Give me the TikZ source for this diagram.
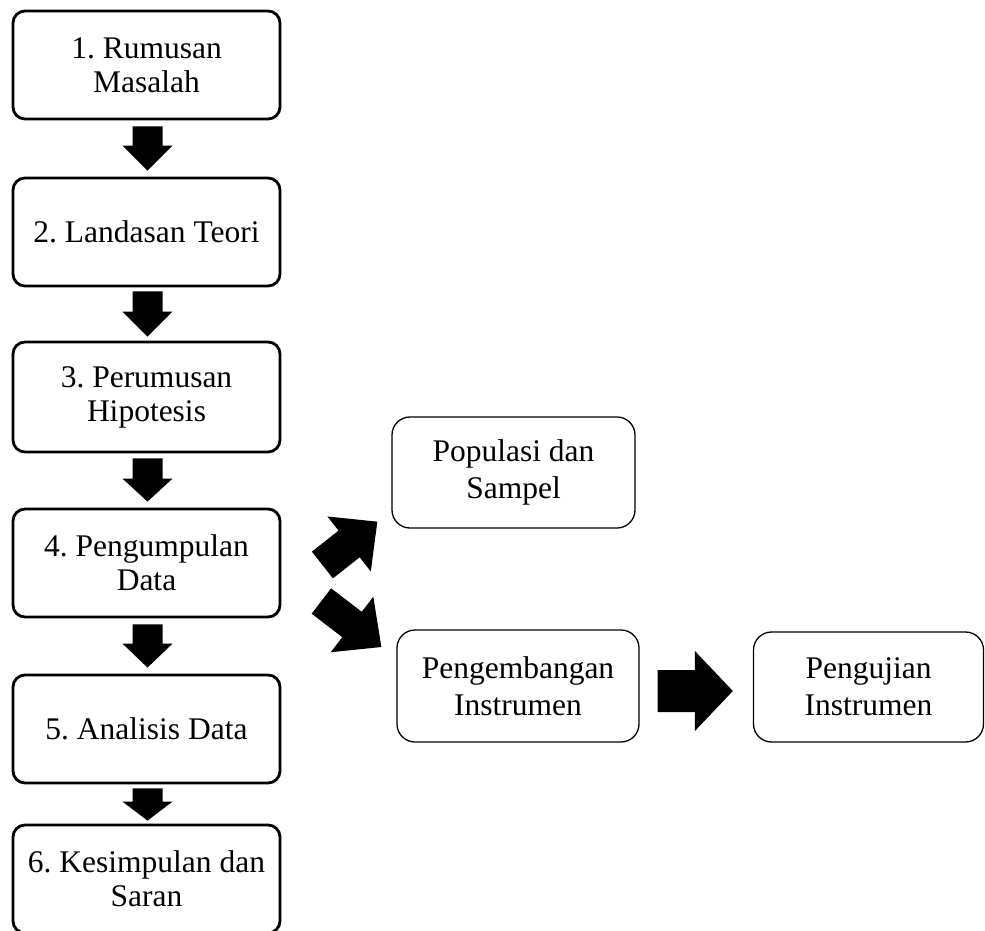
\documentclass[tikz,border=0pt]{standalone}
\usepackage{fontspec}
\setmainfont{Liberation Serif}
\usetikzlibrary{calc}
\frenchspacing
\newcommand{\drawblockarrow}[5]{%
  \coordinate (tmph) at ($(#2)!#5!(#1)$);
  \fill[black] ($(#1)!#3!90:(#2)$) -- ($(tmph)!#3!90:(#2)$) -- ($(tmph)!#4!90:(#2)$) -- (#2)
    -- ($(tmph)!#4!-90:(#2)$) -- ($(tmph)!#3!-90:(#2)$) -- ($(#1)!#3!-90:(#2)$) -- cycle;%
}
\tikzset{
  mainbox/.style={draw, line width=2.8pt, rounded corners=12pt, inner sep=0pt,
    minimum width=267pt, align=center,
    font=\fontsize{31.5}{34}\selectfont},
  sidebox/.style={draw, line width=1.3pt, rounded corners=18pt, inner sep=0pt,
    align=center, font=\fontsize{31.5}{37}\selectfont}
}
\begin{document}
\begin{tikzpicture}[x=1pt,y=-1pt]
\useasboundingbox (0,0) rectangle (985,931);
% main column
\node[mainbox, minimum height=108pt] (b1) at (146.5,65) {1. Rumusan\\Masalah};
\node[mainbox, minimum height=108pt] (b2) at (146.5,232) {2. Landasan Teori};
\node[mainbox, minimum height=110pt] (b3) at (146.5,397) {3. Perumusan\\Hipotesis};
\node[mainbox, minimum height=108pt] (b4) at (146.5,563) {4. Pengumpulan\\Data};
\node[mainbox, minimum height=108pt] (b5) at (146.5,729) {5. Analisis Data};
\node[mainbox, minimum height=108pt] (b6) at (146.5,879) {6. Kesimpulan dan\\Saran};
% side boxes
\node[sidebox, minimum width=243pt, minimum height=111pt] (pop) at (513.5,472.5) {Populasi dan\\Sampel};
\node[sidebox, minimum width=242pt, minimum height=112pt] (peng) at (518,686) {Pengembangan\\Instrumen};
\node[sidebox, minimum width=230pt, minimum height=110pt] (uji) at (868.5,687) {Pengujian\\Instrumen};
% vertical arrows
\coordinate (a1s) at ($(b1.south)+(1,6)$);
\coordinate (a1e) at ($(b2.north)+(1,-6)$);
\drawblockarrow{a1s}{a1e}{15pt}{25pt}{25pt}
\coordinate (a2s) at ($(b2.south)+(1,4)$);
\coordinate (a2e) at ($(b3.north)+(1,-4)$);
\drawblockarrow{a2s}{a2e}{15pt}{25pt}{25pt}
\coordinate (a3s) at ($(b3.south)+(1,5)$);
\coordinate (a3e) at ($(b4.north)+(1,-6)$);
\drawblockarrow{a3s}{a3e}{15pt}{25pt}{23pt}
\coordinate (a4s) at ($(b4.south)+(1,6)$);
\coordinate (a4e) at ($(b5.north)+(1,-6)$);
\drawblockarrow{a4s}{a4e}{15pt}{25pt}{24pt}
\coordinate (a5s) at ($(b5.south)+(1,4)$);
\coordinate (a5e) at ($(b6.north)+(1,-3)$);
\drawblockarrow{a5s}{a5e}{15pt}{25pt}{19pt}
% diagonal arrows
\coordinate (d1s) at ($(b4.east)+(41,2)$);
\coordinate (d1e) at ($(pop.south west)+(-14,-7)$);
\drawblockarrow{d1s}{d1e}{17pt}{35pt}{36pt}
\coordinate (d2s) at ($(b4.east)+(40,38)$);
\coordinate (d2e) at ($(peng.west)+(-15,-39)$);
\drawblockarrow{d2s}{d2e}{16pt}{35pt}{37pt}
% horizontal arrow
\coordinate (hs) at ($(peng.east)+(18,5)$);
\coordinate (he) at ($(uji.west)+(-20,4)$);
\drawblockarrow{hs}{he}{21pt}{40pt}{38pt}
\end{tikzpicture}
\end{document}
